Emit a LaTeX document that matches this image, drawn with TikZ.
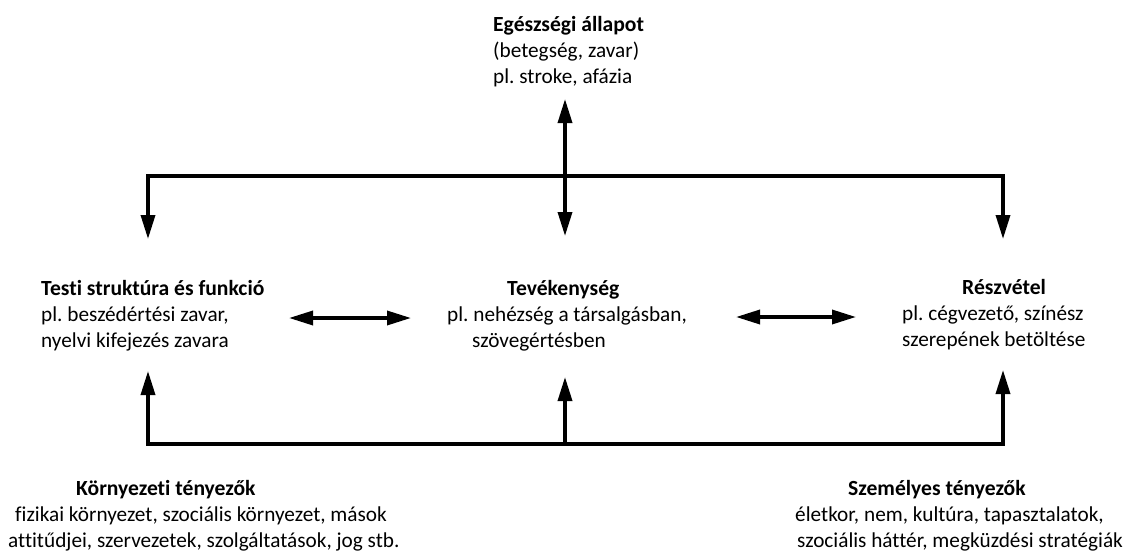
\documentclass[tikz,border=0pt]{standalone}
\usepackage{fontspec}
\setmainfont{Carlito}[Ligatures={NoCommon}]
\usetikzlibrary{arrows.meta}
\frenchspacing
\begin{document}
\begin{tikzpicture}[x=1pt,y=-1pt,
  txt/.style={anchor=base west,inner sep=0pt,font=\fontsize{21.25}{26}\selectfont},
  ttl/.style={txt,font=\fontsize{21.6}{26}\selectfont\bfseries},
  conn/.style={line width=3.4pt,line cap=butt,line join=miter},
  tip/.style={-{Triangle[length=24pt,width=14pt]}},
  dtip/.style={{Triangle[length=24pt,width=14pt]}-{Triangle[length=24pt,width=14pt]}}]
\useasboundingbox (0,0) rectangle (1127,552);
% top
\node[ttl] (h1) at (493,31) {Egészségi állapot};
\node[txt] (h2) at (493,57) {(betegség, zavar)};
\node[txt] (h3) at (493,83) {pl. stroke, afázia};
% left
\node[ttl] (b1) at (41,295) {Testi struktúra és funkció};
\node[txt] (b2) at (41,321) {pl. beszédértési zavar,};
\node[txt] (b3) at (41,347) {nyelvi kifejezés zavara};
% center
\node[ttl] (a1) at (507,295) {Tevékenység};
\node[txt] (a2) at (447,321) {pl. nehézség a társalgásban,};
\node[txt] (a3) at (472,347) {szövegértésben};
% right
\node[ttl] (p1) at (962,294) {Részvétel};
\node[txt] (p2) at (902,320) {pl. cégvezető, színész};
\node[txt] (p3) at (902,346) {szerepének betöltése};
% bottom left
\node[ttl] (e1) at (76,495) {Környezeti tényezők};
\node[txt] (e2) at (15,521) {fizikai környezet, szociális környezet, mások};
\node[txt] (e3) at (8,547) {attitűdjei, szervezetek, szolgáltatások, jog stb.};
% bottom right
\node[ttl] (s1) at (848,495) {Személyes tényezők};
\node[txt] (s2) at (795,521) {életkor, nem, kultúra, tapasztalatok,};
\node[txt] (s3) at (797,547) {szociális háttér, megküzdési stratégiák};
% coordinates
\coordinate (hTip) at (565,99);
\coordinate (aTopTip) at (565,236);
\coordinate (tL) at (148,176);
\coordinate (tR) at (1003,176);
\coordinate (bTopTip) at (148,239);
\coordinate (pTopTip) at (1003,239);
\coordinate (bL) at (148,444);
\coordinate (bR) at (1003,444);
\coordinate (bC) at (565,444);
\coordinate (bBotTip) at (148,371);
\coordinate (aBotTip) at (565,377);
\coordinate (pBotTip) at (1003,370);
\coordinate (lhL) at (289,318);
\coordinate (lhR) at (411,318);
\coordinate (rhL) at (736,317);
\coordinate (rhR) at (856,317);
% connectors
\draw[conn,dtip] (hTip) -- (aTopTip);
\draw[conn,tip] (tR) -- (tL) -- (bTopTip);
\draw[conn,tip] (tL) -- (tR) -- (pTopTip);
\draw[conn,tip] (bR) -- (bL) -- (bBotTip);
\draw[conn,tip] (bL) -- (bR) -- (pBotTip);
\draw[conn,tip] (bC) -- (aBotTip);
\draw[conn,dtip] (lhL) -- (lhR);
\draw[conn,dtip] (rhL) -- (rhR);
\end{tikzpicture}
\end{document}
